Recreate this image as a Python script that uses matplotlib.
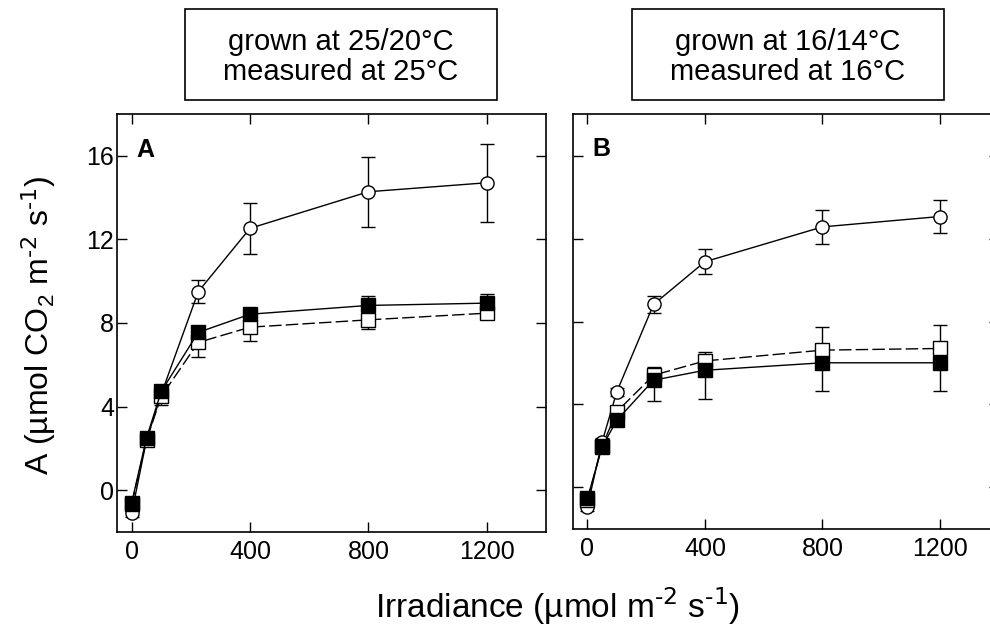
import matplotlib
matplotlib.use("Agg")
import matplotlib.pyplot as plt
from matplotlib.patches import Rectangle

plt.rcParams["font.family"] = ["Liberation Sans", "DejaVu Sans"]
plt.rcParams["mathtext.default"] = "regular"
plt.rcParams["axes.unicode_minus"] = False

# irradiance steps (umol m-2 s-1)
irr = [0, 50, 100, 225, 400, 800, 1200]

# panel A: grown 25/20, measured 25
a_circ = [-1.1, 2.4, 4.6, 9.5, 12.53, 14.28, 14.71]
a_circ_err = [0.2, 0.2, 0.2, 0.55, 1.22, 1.67, 1.87]
a_open = [-0.65, 2.4, 4.49, 7.07, 7.8, 8.15, 8.47]
a_open_err = [0.2, 0.2, 0.4, 0.7, 0.65, 0.43, 0.3]  # drawn downward
a_fill = [-0.6, 2.5, 4.73, 7.55, 8.42, 8.84, 8.95]
a_fill_err = [0.2, 0.2, 0.2, 0.25, 0.25, 0.43, 0.43]  # drawn upward

# panel B: grown 16/14, measured 16
b_circ = [-0.93, 2.2, 4.61, 8.82, 10.88, 12.56, 13.06]
b_circ_err = [0.2, 0.2, 0.2, 0.42, 0.6, 0.82, 0.78]
b_open = [-0.62, 2.0, 3.65, 5.41, 6.1, 6.62, 6.7]
b_open_err = [0.2, 0.2, 0.2, 0.4, 0.44, 1.12, 1.12]  # drawn upward
b_fill = [-0.53, 1.96, 3.24, 5.17, 5.65, 6.01, 6.01]
b_fill_err = [0.2, 0.2, 0.2, 1.0, 1.4, 1.37, 1.37]  # drawn downward

titles = ["grown at 25/20\u00b0C\nmeasured at 25\u00b0C",
          "grown at 16/14\u00b0C\nmeasured at 16\u00b0C"]
letters = ["A", "B"]

fig = plt.figure(figsize=(9.9, 6.33), dpi=100)
axA = fig.add_axes([0.1181, 0.1596, 0.4333, 0.6603])
axB = fig.add_axes([0.5785, 0.1643, 0.4303, 0.6556])

eb = dict(color="k", mec="k", ms=9.5, mew=1.0, lw=1.0,
          elinewidth=1.0, ecolor="k", capsize=5, capthick=1.6)


def draw(ax, circ, circ_err, opn, opn_err, fill, fill_err, open_up):
    z = [0] * len(irr)
    ax.errorbar(irr, circ, yerr=circ_err, fmt="-o", mfc="white", zorder=3, **eb)
    oerr = [z, opn_err] if open_up else [opn_err, z]
    ferr = [fill_err, z] if open_up else [z, fill_err]
    ax.errorbar(irr, opn, yerr=oerr, fmt="s", ls=(0, (9, 3)), mfc="white",
                zorder=4, **eb)
    ax.errorbar(irr, fill, yerr=ferr, fmt="-s", mfc="k", zorder=5, **eb)

    ax.set_xlim(-50, 1400)
    ax.set_ylim(-2, 18)
    ax.set_xticks([0, 400, 800, 1200])
    ax.set_yticks([0, 4, 8, 12, 16])
    ax.tick_params(direction="in", length=7, width=1.0, top=True, right=True,
                   labelsize=18)
    ax.tick_params(axis="x", pad=6)
    ax.tick_params(axis="y", pad=2)
    for s in ax.spines.values():
        s.set_linewidth(1.2)


draw(axA, a_circ, a_circ_err, a_open, a_open_err, a_fill, a_fill_err, False)
draw(axB, b_circ, b_circ_err, b_open, b_open_err, b_fill, b_fill_err, True)
axB.tick_params(labelleft=False)

for ax, lt in zip([axA, axB], letters):
    ax.text(0.045, 0.898, lt, transform=ax.transAxes, fontsize=18,
            fontweight="bold", va="baseline", ha="left")

# header boxes
for x0, t in zip([0.1869, 0.6384], titles):
    fig.add_artist(Rectangle((x0, 0.842), 0.3152, 0.1438, transform=fig.transFigure,
                             fill=False, ec="k", lw=1.2))
    l1, l2 = t.split("\n")
    fig.text(x0 + 0.1576, 0.9336, l1, ha="center", va="center", fontsize=21)
    fig.text(x0 + 0.1576, 0.8863, l2, ha="center", va="center", fontsize=21)

fig.text(0.0384, 0.4866, r"A (µmol CO$_2$ m$^{\text{-2}}$ s$^{\text{-1}}$)",
         rotation=90, ha="center", va="center", fontsize=23)
fig.text(0.5636, 0.024, r"Irradiance (µmol m$^{\text{-2}}$ s$^{\text{-1}}$)",
         ha="center", va="baseline", fontsize=24)

fig.savefig("out.png", dpi=100)
